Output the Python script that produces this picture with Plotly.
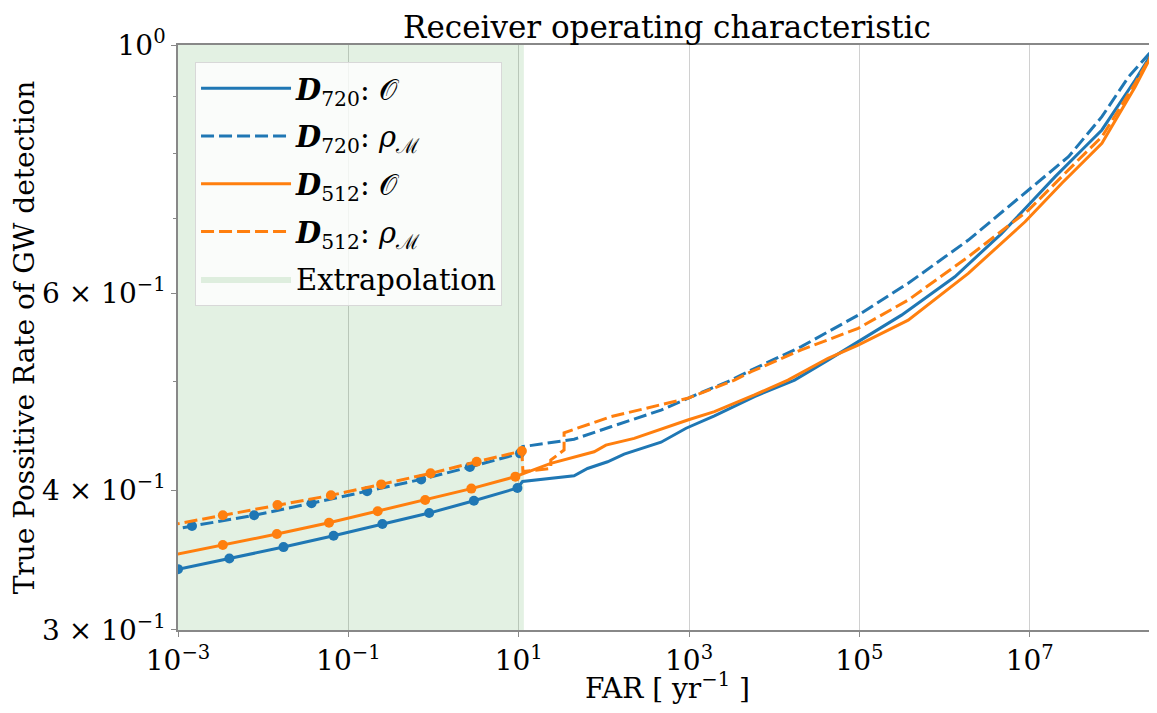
import plotly.graph_objects as go

BLUE = "#1f77b4"
ORANGE = "#ff7f0e"
FONT = "DejaVu Serif"

# extrapolated part (drawn with markers)
D720_O_EXT_X = [0.001, 0.00401, 0.01734, 0.0671, 0.251, 0.889, 2.98, 9.66]
D720_O_EXT_Y = [0.340, 0.3476, 0.3558, 0.3642, 0.3731, 0.3816, 0.3914, 0.4018]
D720_R_EXT_X = [0.00027, 0.00146, 0.00783, 0.0370, 0.166, 0.716, 2.67, 10.36]
D720_R_EXT_Y = [0.3633, 0.3716, 0.3799, 0.3894, 0.3991, 0.4090, 0.4195, 0.4315]
D512_O_EXT_X = [0.00078, 0.00336, 0.01449, 0.0593, 0.221, 0.798, 2.78, 9.14]
D512_O_EXT_Y = [0.3494, 0.3573, 0.3655, 0.3741, 0.3830, 0.3920, 0.4013, 0.4113]
D512_R_EXT_X = [0.00074, 0.00336, 0.01472, 0.0625, 0.243, 0.923, 3.21, 10.9]
D512_R_EXT_Y = [0.3718, 0.3799, 0.3880, 0.3958, 0.4048, 0.4141, 0.4241, 0.4336]

# measured part
D720_O_X = [11.1, 44.7, 64.3, 110.6, 173, 469, 923, 1986, 5865, 17340, 42850, 96600,
            3.12e5, 1.32e6, 4.69e6, 9.66e6, 1.99e7, 4.09e7, 7.03e7, 1.73e8, 3.12e8]
D720_O_Y = [0.4072, 0.4121, 0.4183, 0.4241, 0.4309, 0.4415, 0.4544, 0.4661, 0.4850, 0.5017,
            0.5228, 0.5430, 0.5735, 0.6206, 0.6786, 0.7194, 0.7627, 0.8057, 0.8396, 0.9305, 1.0]
D720_R_X = [11.1, 31.2, 44.7, 120.8, 469, 966, 3119, 5358, 20800, 96600, 3.74e5, 1.90e6,
            9.66e6, 2.85e7, 7.03e7, 1.45e8, 3.12e8]
D720_R_Y = [0.4375, 0.4420, 0.4442, 0.4558, 0.4717, 0.4833, 0.5017, 0.5122, 0.5375, 0.5735,
            0.6124, 0.6693, 0.7419, 0.7946, 0.8628, 0.9369, 1.0]
D512_O_X = [11.1, 23.8, 76.9, 105.6, 227, 561, 966, 1986, 5865, 14490, 42850, 96600,
            3.74e5, 1.90e6, 8.81e6, 2.38e7, 7.03e7, 1.73e8, 3.12e8]
D512_O_Y = [0.4136, 0.4227, 0.4329, 0.4389, 0.4450, 0.4558, 0.4622, 0.4702, 0.4866, 0.5017,
            0.5248, 0.5392, 0.5676, 0.6250, 0.6950, 0.7524, 0.8168, 0.9177, 1.0]
D512_R_X = [11.2, 23.8, 23.8, 34.1, 34.1, 120.8, 966, 3412, 5358, 20800, 96600, 3.74e5,
            1.90e6, 9.66e6, 3.41e7, 7.03e7, 1.73e8, 3.12e8]
D512_R_Y = [0.4156, 0.4183, 0.4256, 0.4345, 0.4502, 0.4653, 0.4833, 0.5017, 0.5105, 0.5339,
            0.5581, 0.5916, 0.6467, 0.7118, 0.7841, 0.8279, 0.9243, 1.0]

EXTRAP_MAX = 11.5
X_MIN, X_MAX = 1e-3, 3.12e8
Y_MIN, Y_MAX = 0.3, 1.0

SERIES = [
    ("<b><i>D</i></b><sub>720</sub>: 𝒪", BLUE, "solid", D720_O_EXT_X, D720_O_EXT_Y, D720_O_X, D720_O_Y),
    ("<b><i>D</i></b><sub>720</sub>: <i>ρ</i><sub>ℳ</sub>", BLUE, "13px,5px", D720_R_EXT_X, D720_R_EXT_Y, D720_R_X, D720_R_Y),
    ("<b><i>D</i></b><sub>512</sub>: 𝒪", ORANGE, "solid", D512_O_EXT_X, D512_O_EXT_Y, D512_O_X, D512_O_Y),
    ("<b><i>D</i></b><sub>512</sub>: <i>ρ</i><sub>ℳ</sub>", ORANGE, "13px,5px", D512_R_EXT_X, D512_R_EXT_Y, D512_R_X, D512_R_Y),
]

fig = go.Figure()

# extrapolation span, put last in the legend
fig.add_trace(go.Scatter(
    x=[X_MIN / 10, EXTRAP_MAX, EXTRAP_MAX, X_MIN / 10],
    y=[Y_MIN / 2, Y_MIN / 2, Y_MAX * 2, Y_MAX * 2],
    fill="toself", mode="lines", line=dict(width=0),
    fillcolor="rgba(0,128,0,0.11)", name="Extrapolation", legendrank=2000,
    legendgroup="extrap",
))

for i, (name, color, dash, ex, ey, mx, my) in enumerate(SERIES):
    fig.add_trace(go.Scatter(
        x=ex + mx, y=ey + my, mode="lines", name=name, legendgroup=f"s{i}",
        line=dict(color=color, width=3, dash=dash),
    ))
    fig.add_trace(go.Scatter(
        x=ex, y=ey, mode="markers", showlegend=False, legendgroup=f"s{i}",
        marker=dict(color=color, size=10),
    ))

xt = [1e-3, 1e-1, 1e1, 1e3, 1e5, 1e7]
xt_text = ["10<sup>−3</sup>", "10<sup>−1</sup>", "10<sup>1</sup>",
           "10<sup>3</sup>", "10<sup>5</sup>", "10<sup>7</sup>"]
yt = [0.3, 0.4, 0.6, 1.0]
yt_text = ["3 × 10<sup>−1</sup>", "4 × 10<sup>−1</sup>", "6 × 10<sup>−1</sup>", "10<sup>0</sup>"]

# page body adds an 8px margin, so the figure is 16px smaller than the window
fig.update_layout(
    width=1149, height=697,
    margin=dict(l=170, r=0, t=37, b=75),
    paper_bgcolor="white", plot_bgcolor="white",
    font=dict(family=FONT, size=27, color="black"),
    title=dict(text="Receiver operating characteristic", x=0.5735, xanchor="center",
               y=0.972, yanchor="middle", font=dict(size=31), automargin=False),
    legend=dict(x=0.0174, y=0.971, xanchor="left", yanchor="top",
                bgcolor="rgba(255,255,255,0.8)", bordercolor="#d8d8d8", borderwidth=1,
                font=dict(size=29), traceorder="grouped", tracegroupgap=7, itemwidth=90),
    showlegend=True,
)
fig.update_xaxes(
    type="log", range=[-3, 8.494], tickvals=xt, ticktext=xt_text, automargin=False,
    showgrid=True, gridcolor="#d0d0d0", gridwidth=1,
    showline=True, linecolor="#888888", linewidth=1.5, mirror=True,
    ticks="outside", ticklen=5, tickcolor="#888888", tickfont=dict(size=28),
    title=dict(text="FAR [ yr<sup>−1</sup> ]", font=dict(size=28), standoff=8),
    zeroline=False,
)
fig.update_yaxes(
    type="log", range=[-0.5229, 0], tickvals=yt, ticktext=yt_text, automargin=False,
    showgrid=False,
    showline=True, linecolor="#888888", linewidth=1.5, mirror=True,
    ticks="outside", ticklen=5, tickcolor="#888888", tickfont=dict(size=28),
    minor=dict(tickvals=[0.5, 0.7, 0.8, 0.9], ticks="outside", ticklen=3, tickcolor="#888888",
               showgrid=False),
    title=dict(text="True Possitive Rate of GW detection", font=dict(size=28), standoff=0),
    zeroline=False,
)

fig.write_html("out.html")
